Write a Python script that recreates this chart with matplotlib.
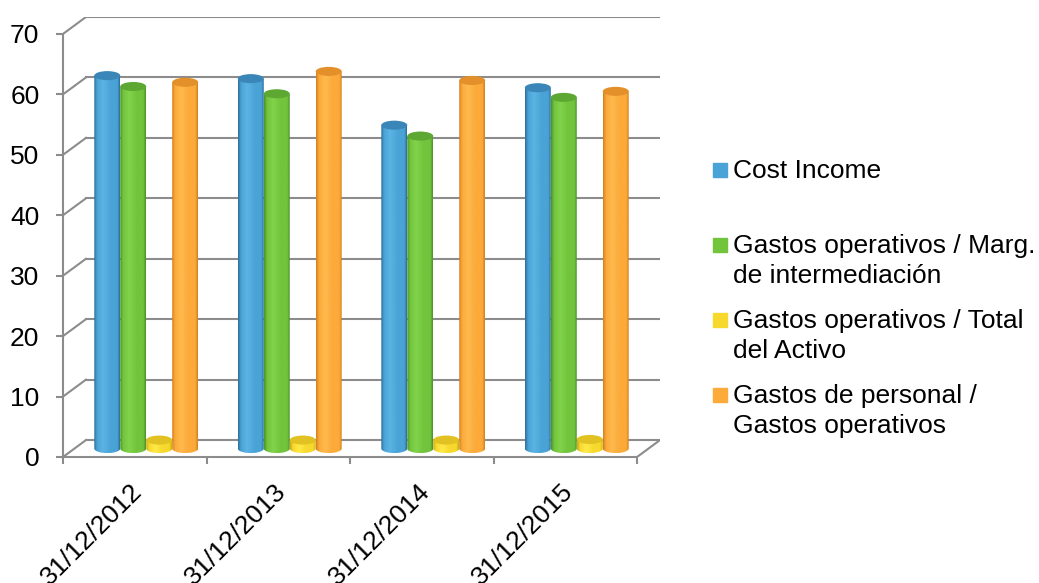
import numpy as np
import matplotlib.pyplot as plt
from matplotlib.patches import Ellipse, Polygon, Rectangle
from matplotlib.colors import LinearSegmentedColormap

plt.rcParams['font.family'] = ['Liberation Sans', 'DejaVu Sans']

# datos
fechas = ['31/12/2012', '31/12/2013', '31/12/2014', '31/12/2015']
cost_income = [61.7, 61.2, 53.5, 59.7]
gastos_margen = [59.9, 58.7, 51.7, 58.1]
gastos_activo = [1.4, 1.4, 1.4, 1.5]
personal_gastos = [60.6, 62.4, 60.9, 59.1]

series = [cost_income, gastos_margen, gastos_activo, personal_gastos]
etiquetas = [['Cost Income'],
             ['Gastos operativos / Marg.', 'de intermediación'],
             ['Gastos operativos / Total', 'del Activo'],
             ['Gastos de personal /', 'Gastos operativos']]

# colores: oscuro, claro, principal, tapa
colores = [('#2c6c98', '#5cb4e4', '#4aa3d6', '#3a86b8'),
           ('#4a8e26', '#80d34a', '#72c43c', '#5da832'),
           ('#c9a814', '#ffe94a', '#f6d92c', '#e2c222'),
           ('#cf7e1c', '#ffb94e', '#fcaa3a', '#e4902a')]

gris = '#8c8c8c'
fs = 19

fig = plt.figure(figsize=(10.39, 5.83), dpi=100)
ax = fig.add_axes([63 / 1039, 1 - 457 / 583, 597 / 1039, 440 / 583])

dx = 0.16   # profundidad en x (categorias)
dy = 2.8    # profundidad en y (valores)
ancho = 0.181
eh = 1.5    # alto de las elipses
base = dy / 2
n = len(fechas)

# pared del fondo y lineas diagonales
for v in range(0, 80, 10):
    ax.plot([dx, n + dx], [v + dy, v + dy], color=gris, lw=1.5, zorder=1)
    ax.plot([0, dx], [v, v + dy], color=gris, lw=1.5, zorder=1)
ax.plot([n, n + dx], [0, dy], color=gris, lw=1.5, zorder=1)

# cilindros
x = np.arange(n)
grad = np.linspace(0, 1, 256).reshape(1, -1)
for i, vals in enumerate(series):
    oscuro, claro, principal, tapa = colores[i]
    cm = LinearSegmentedColormap.from_list(
        'c%d' % i, [(0, oscuro), (0.12, principal), (0.35, claro),
                    (0.65, principal), (0.9, principal), (1, oscuro)])
    xs = x + 0.5 + dx / 2 + (i - 1.5) * ancho
    bars = ax.bar(xs, vals, width=ancho, bottom=base, color=principal,
                  zorder=2, linewidth=0)
    for rect in bars:
        x0 = rect.get_x()
        x1 = x0 + rect.get_width()
        y0 = rect.get_y()
        y1 = y0 + rect.get_height()
        cx = (x0 + x1) / 2
        t = np.linspace(np.pi, 2 * np.pi, 40)
        verts = np.column_stack([cx + (x1 - x0) / 2 * np.cos(t),
                                 y0 + eh / 2 * np.sin(t)])
        verts = np.vstack([verts, [[x1, y1], [x0, y1]]])
        poly = Polygon(verts, closed=True, transform=ax.transData)
        rect.set_visible(False)
        im = ax.imshow(grad, extent=(x0, x1, y0 - eh / 2, y1), aspect='auto',
                       cmap=cm, zorder=3, interpolation='bilinear')
        im.set_clip_path(poly)
        ax.add_patch(Ellipse((cx, y1), x1 - x0, eh, facecolor=tapa,
                             edgecolor='none', zorder=4))

ax.set_xlim(0, n + dx)
ax.set_ylim(0, 70 + dy)

# ejes
for s in ['top', 'right']:
    ax.spines[s].set_visible(False)
ax.spines['left'].set_bounds(0, 70)
ax.spines['bottom'].set_bounds(0, n)
for s in ['left', 'bottom']:
    ax.spines[s].set_color(gris)
    ax.spines[s].set_linewidth(1.5)
ax.set_yticks(range(0, 80, 10))
ax.tick_params(axis='y', length=5, width=1.5, color=gris, pad=12,
               labelsize=fs)
ax.set_xticks(range(n + 1))
ax.set_xticklabels([])
ax.tick_params(axis='x', length=5, width=1.5, color=gris)

for i, f in enumerate(fechas):
    ax.annotate(f, xy=(i + 0.5, 0), xytext=(3, -22), textcoords='offset points',
                rotation=45, ha='right', va='center', rotation_mode='anchor',
                fontsize=fs)

# leyenda
W, H = 1039, 583
bases = [178, 253, 328, 403]
for i, lineas in enumerate(etiquetas):
    b = bases[i]
    fig.add_artist(Rectangle((713 / W, 1 - (b - 1) / H), 14 / W, 14 / H,
                             transform=fig.transFigure, color=colores[i][2]))
    for j, linea in enumerate(lineas):
        fig.text(733 / W, 1 - (b + 30 * j) / H, linea, fontsize=fs,
                 va='baseline', ha='left')

fig.savefig('out.png', dpi=100)
